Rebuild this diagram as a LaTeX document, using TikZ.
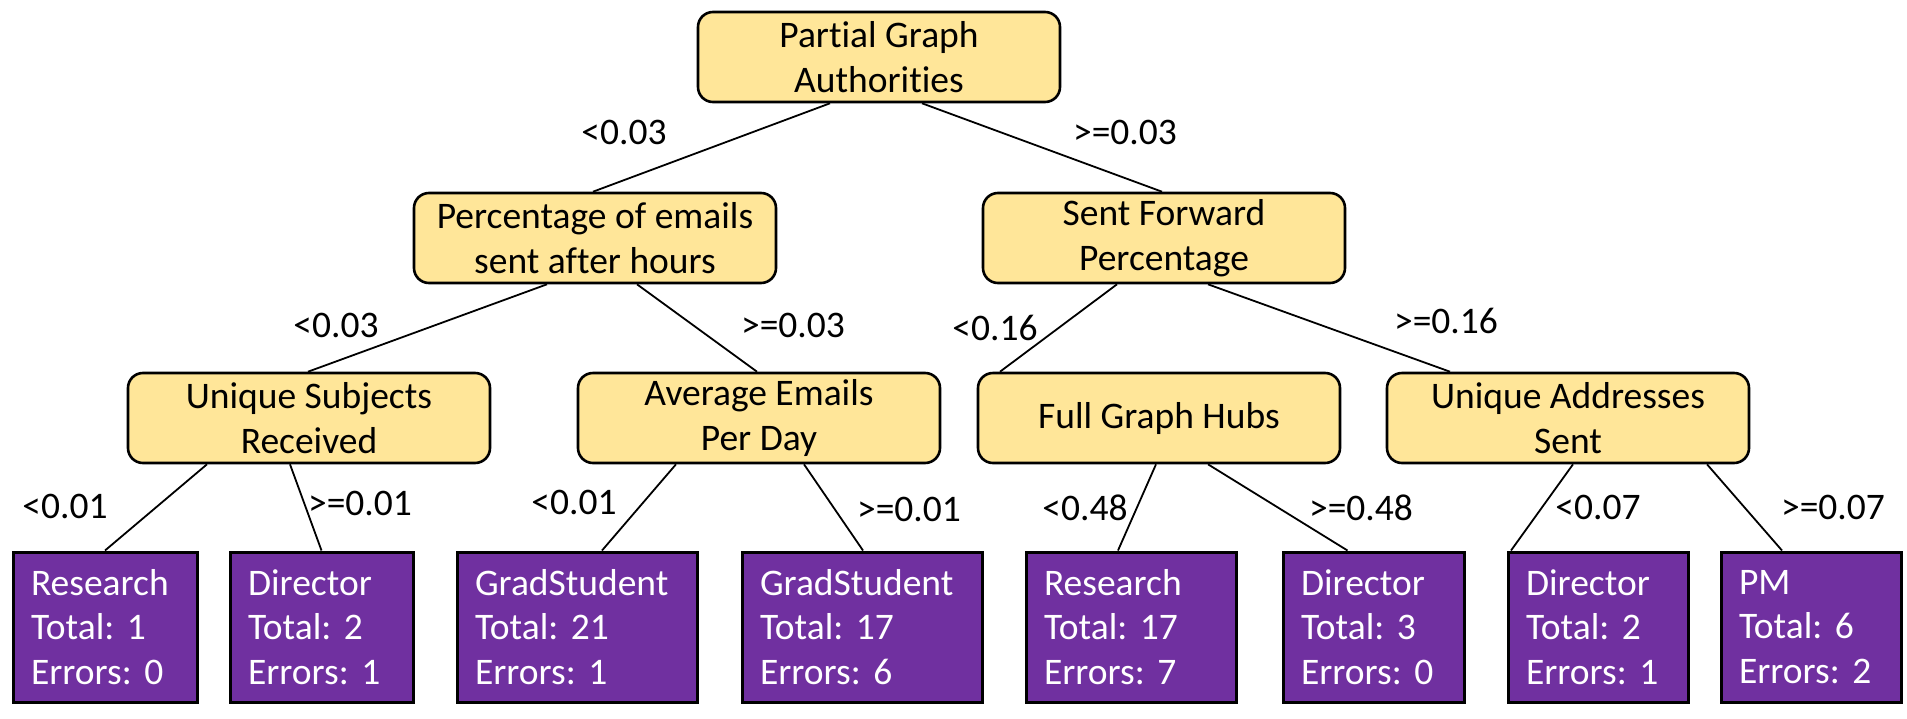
\documentclass[tikz,border=0pt]{standalone}
\usepackage{fontspec}
\setmainfont{Carlito}[Ligatures=NoCommon]
\frenchspacing
\definecolor{splitfill}{HTML}{FFE699}
\definecolor{leaffill}{HTML}{7030A0}
\begin{document}
\begin{tikzpicture}[x=1pt,y=-1pt,
  split/.style={draw=black, line width=2.6pt, fill=splitfill, rounded corners=15pt,
    minimum width=362pt, minimum height=90pt, align=center, inner sep=0pt,
    font=\fontsize{37.5}{45}\selectfont},
  leaf/.style={draw=black, line width=3pt, fill=leaffill, text=white,
    minimum height=150pt, align=left, inner xsep=18pt, inner ysep=0pt,
    font=\fontsize{37.5}{44.5}\selectfont},
  branch/.style={line width=1.8pt},
  cond/.style={anchor=base, inner sep=0pt, font=\fontsize{37.5}{44}\selectfont}]
\useasboundingbox (0,0) rectangle (1907,718);

% decision nodes
\node[split] (root) at (879,57)  {Partial Graph\\Authorities};
\node[split] (pct)  at (595,238) {Percentage of emails\\sent after hours};
\node[split] (fwd)  at (1164,238) {Sent Forward\\Percentage};
\node[split] (subj) at (309,418) {Unique Subjects\\Received};
\node[split] (avg)  at (759,418) {Average Emails\\Per Day};
\node[split] (hubs) at (1159,418) {Full Graph Hubs};
\node[split] (addr) at (1568,418) {Unique Addresses\\Sent};

% leaves
\node[leaf, text width=148pt] (lf1) at (105,627)    {Research\\Total: 1\\Errors: 0};
\node[leaf, text width=147pt] (lf2) at (321.5,627)  {Director\\Total: 2\\Errors: 1};
\node[leaf, text width=204pt] (lf3) at (577,627)    {GradStudent\\Total: 21\\Errors: 1};
\node[leaf, text width=204pt] (lf4) at (862,627)    {GradStudent\\Total: 17\\Errors: 6};
\node[leaf, text width=174pt] (lf5) at (1131,627)   {Research\\Total: 17\\Errors: 7};
\node[leaf, text width=145pt] (lf6) at (1373.5,627) {Director\\Total: 3\\Errors: 0};
\node[leaf, text width=144pt] (lf7) at (1598,627)   {Director\\Total: 2\\Errors: 1};
\node[leaf, text width=144pt] (lf8) at (1811,627)   {PM\\Total: 6\\Errors: 2};

% branches
\draw[branch] ([xshift=-49pt]root.south) -- ([xshift=-2pt]pct.north);
\draw[branch] ([xshift=43pt]root.south)  -- ([xshift=-2pt]fwd.north);
\draw[branch] ([xshift=-48pt]pct.south)  -- ([xshift=-1pt]subj.north);
\draw[branch] ([xshift=42pt]pct.south)   -- ([xshift=-2pt]avg.north);
\draw[branch] ([xshift=-47pt]fwd.south)  -- ([xshift=-159pt]hubs.north);
\draw[branch] ([xshift=44pt]fwd.south)   -- ([xshift=-118pt]addr.north);
\draw[branch] ([xshift=-102pt]subj.south) -- (lf1.north);
\draw[branch] ([xshift=-19pt]subj.south)  -- (lf2.north);
\draw[branch] ([xshift=-83pt]avg.south)   -- ([xshift=25pt]lf3.north);
\draw[branch] ([xshift=45pt]avg.south)    -- ([xshift=1pt]lf4.north);
\draw[branch] ([xshift=-3pt]hubs.south)   -- ([xshift=-13pt]lf5.north);
\draw[branch] ([xshift=49pt]hubs.south)   -- ([xshift=-26pt]lf6.north);
\draw[branch] ([xshift=5pt]addr.south)    -- ([xshift=-87pt]lf7.north);
\draw[branch] ([xshift=139pt]addr.south)  -- ([xshift=-29pt]lf8.north);

% split thresholds
\node[cond] (c1)  at (624,144)  {<0.03};
\node[cond] (c2)  at (1125,144) {>=0.03};
\node[cond] (c3)  at (336,337)  {<0.03};
\node[cond] (c4)  at (793,337)  {>=0.03};
\node[cond] (c5)  at (995,340)  {<0.16};
\node[cond] (c6)  at (1446,333) {>=0.16};
\node[cond] (c7)  at (65,518)   {<0.01};
\node[cond] (c8)  at (360,515)  {>=0.01};
\node[cond] (c9)  at (574,514)  {<0.01};
\node[cond] (c10) at (909,521)  {>=0.01};
\node[cond] (c11) at (1085,520) {<0.48};
\node[cond] (c12) at (1361,520) {>=0.48};
\node[cond] (c13) at (1598,519) {<0.07};
\node[cond] (c14) at (1833,519) {>=0.07};
\end{tikzpicture}
\end{document}
